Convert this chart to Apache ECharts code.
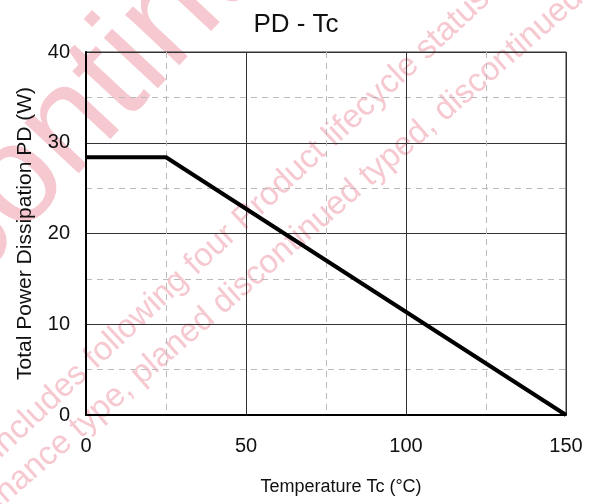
<!DOCTYPE html>
<html><head><meta charset="utf-8">
<script src="https://cdn.jsdelivr.net/npm/echarts@6/dist/echarts.min.js"></script>
<style>html,body{margin:0;padding:0;background:#fff}#c{width:593px;height:504px}</style>
</head><body><div id="c"></div>
<script>
var tempC = [0, 25, 150];
var powerW = [28.4, 28.4, 0];
var xTicks = [0, 50, 100, 150];
var yTicks = [0, 10, 20, 30, 40];
var titleText = 'PD - Tc';
var xName = 'Temperature Tc (°C)';
var yName = 'Total Power Dissipation PD (W)';

var chart = echarts.init(document.getElementById('c'));
var F = 'Liberation Sans, Arial, sans-serif';
var wm = '#f6c8d0';
chart.setOption({
  animation: false,
  title: {text: titleText, left: 291, top: 7, textAlign: 'center',
    textStyle: {fontFamily: F, fontSize: 26, fontWeight: 'normal', color: '#111'}},
  graphic: [
    {type: 'text', z: -10, x: -195, y: 410, rotation: 47 * Math.PI / 180,
     style: {text: 'Discontinued', font: '140px ' + F, fill: wm, textAlign: 'left', textVerticalAlign: 'middle'}},
    {type: 'text', z: -10, x: -6, y: 452, rotation: 43 * Math.PI / 180,
     style: {text: 'includes following four Product lifecycle status', font: '33px ' + F, fill: wm, textVerticalAlign: 'middle'}},
    {type: 'text', z: -10, x: -75, y: 562, rotation: 41 * Math.PI / 180,
     style: {text: 'maintenance type, planed discontinued typed, discontinued', font: '33px ' + F, fill: wm, textVerticalAlign: 'middle'}}
  ],
  grid: {left: 86, right: 27, top: 52, bottom: 89, show: true, borderColor: '#333', borderWidth: 1},
  xAxis: {type: 'value', min: 0, max: 150, interval: 50,
    name: xName, nameLocation: 'middle', nameGap: 63,
    nameTextStyle: {fontFamily: F, fontSize: 18, color: '#111', padding: [0, 0, 0, 30]},
    axisLine: {show: true, onZero: false, lineStyle: {color: '#000', width: 2}},
    axisTick: {show: false},
    axisLabel: {fontFamily: F, fontSize: 20, color: '#111', margin: 21,
      formatter: function (v) { return xTicks.indexOf(v) >= 0 ? String(v) : ''; }},
    splitLine: {show: true, lineStyle: {color: '#333', width: 1}},
    minorTick: {show: false, splitNumber: 2},
    minorSplitLine: {show: true, lineStyle: {color: '#bbb', width: 1, type: [6, 5]}}
  },
  yAxis: {type: 'value', min: 0, max: 40, interval: 10,
    name: yName, nameLocation: 'middle', nameGap: 50,
    nameTextStyle: {fontFamily: F, fontSize: 21, color: '#111'},
    axisLine: {show: true, onZero: false, lineStyle: {color: '#000', width: 2}},
    axisTick: {show: false},
    axisLabel: {fontFamily: F, fontSize: 20, color: '#111', margin: 16,
      formatter: function (v) { return yTicks.indexOf(v) >= 0 ? String(v) : ''; }},
    splitLine: {show: true, lineStyle: {color: '#333', width: 1}},
    minorTick: {show: false, splitNumber: 2},
    minorSplitLine: {show: true, lineStyle: {color: '#bbb', width: 1, type: [6, 5]}}
  },
  series: [{type: 'line', data: tempC.map(function (t, i) { return [t, powerW[i]]; }),
    symbol: 'none', lineStyle: {color: '#000', width: 4}, z: 5}]
});
</script></body></html>
